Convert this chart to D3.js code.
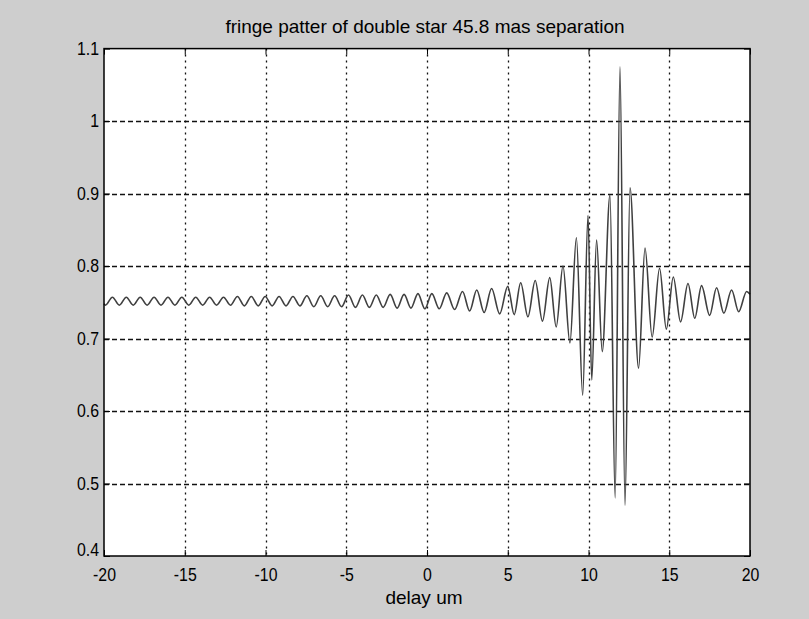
<!DOCTYPE html>
<html>
<head>
<meta charset="utf-8">
<script src="https://cdn.jsdelivr.net/npm/d3@7/dist/d3.min.js"></script>
<style>
  html, body { margin: 0; padding: 0; background: #cecece; }
  svg { display: block; }
  text { font-family: "Liberation Sans", Arial, Helvetica, sans-serif; fill: #000; }
</style>
</head>
<body>
<svg id="chart" width="809" height="619"></svg>
<script>
// Fringe extrema (delay in micrometres, normalised intensity), peak/trough alternating
const fringeDelay = [
  -20.00, -19.91, -19.48, -19.05, -18.62, -18.19, -17.76, -17.33, -16.90, -16.47,
  -16.04, -15.61, -15.18, -14.75, -14.32, -13.89, -13.46, -13.03, -12.60, -12.17,
  -11.74, -11.31, -10.88, -10.45, -10.02, -9.59, -9.16, -8.73, -8.30, -7.87,
  -7.44, -7.01, -6.58, -6.15, -5.72, -5.29, -4.86, -4.43, -4.00, -3.57,
  -3.14, -2.71, -2.28, -1.85, -1.42, -0.99, -0.56, -0.13, 0.30, 0.76,
  1.22, 1.71, 2.20, 2.64, 3.08, 3.54, 4.00, 4.50, 5.00, 5.40,
  5.80, 6.25, 6.70, 7.15, 7.60, 8.00, 8.42, 8.85, 9.25, 9.64,
  9.97, 10.20, 10.50, 10.85, 11.33, 11.65, 11.95, 12.26, 12.57, 13.10,
  13.50, 13.94, 14.40, 14.82, 15.25, 15.70, 16.16, 16.58, 17.00, 17.50,
  17.93, 18.38, 18.86, 19.30, 19.79, 20.00
];
const fringeLevel = [
  0.748, 0.746, 0.757, 0.746, 0.757, 0.746, 0.757, 0.746, 0.757, 0.746,
  0.757, 0.746, 0.757, 0.746, 0.757, 0.746, 0.757, 0.746, 0.757, 0.746,
  0.758, 0.745, 0.758, 0.745, 0.758, 0.745, 0.758, 0.745, 0.758, 0.745,
  0.759, 0.744, 0.759, 0.744, 0.759, 0.744, 0.760, 0.743, 0.760, 0.743,
  0.760, 0.743, 0.761, 0.742, 0.761, 0.742, 0.762, 0.741, 0.762, 0.741,
  0.763, 0.740, 0.765, 0.738, 0.767, 0.736, 0.769, 0.734, 0.772, 0.733,
  0.777, 0.730, 0.780, 0.724, 0.784, 0.716, 0.800, 0.694, 0.839, 0.622,
  0.870, 0.643, 0.836, 0.682, 0.898, 0.480, 1.075, 0.470, 0.908, 0.659,
  0.825, 0.702, 0.797, 0.713, 0.785, 0.723, 0.776, 0.728, 0.773, 0.732,
  0.770, 0.735, 0.767, 0.737, 0.765, 0.761
];

const xTicks = [-20, -15, -10, -5, 0, 5, 10, 15, 20];
const xTickLabels = ["-20", "-15", "-10", "-5", "0", "5", "10", "15", "20"];
const yTicks = [0.4, 0.5, 0.6, 0.7, 0.8, 0.9, 1.0, 1.1];
const yTickLabels = ["0.4", "0.5", "0.6", "0.7", "0.8", "0.9", "1", "1.1"];
const titleText = "fringe patter of double star 45.8 mas separation";
const xLabelText = "delay um";

const svg = d3.select("#chart");
const W = 809, H = 619;
const plot = { left: 104, right: 750, top: 48.6, bottom: 556 };

svg.append("rect").attr("width", W).attr("height", H).attr("fill", "#cecece");

const x = d3.scaleLinear().domain([-20, 20]).range([plot.left, plot.right]);
const y = d3.scaleLinear().domain([0.4, 1.1]).range([plot.bottom, plot.top]);

// axes background
svg.append("rect")
  .attr("x", plot.left).attr("y", plot.top)
  .attr("width", plot.right - plot.left).attr("height", plot.bottom - plot.top)
  .attr("fill", "#fff");

// dotted grid
const grid = svg.append("g").attr("stroke", "#111").attr("stroke-width", 1.3);
grid.selectAll("line.v").data(xTicks.slice(1, -1)).join("line")
  .attr("class", "v")
  .attr("x1", d => Math.round(x(d)) + 0.5).attr("x2", d => Math.round(x(d)) + 0.5)
  .attr("y1", plot.top).attr("y2", plot.bottom)
  .attr("stroke-dasharray", "2,4");
grid.selectAll("line.h").data(yTicks.slice(1, -1)).join("line")
  .attr("class", "h")
  .attr("y1", d => Math.round(y(d)) + 0.5).attr("y2", d => Math.round(y(d)) + 0.5)
  .attr("x1", plot.left).attr("x2", plot.right)
  .attr("stroke-dasharray", "5,3");

// fringe trace
const line = d3.line()
  .x((d, i) => x(fringeDelay[i]))
  .y((d, i) => y(fringeLevel[i]))
  .curve(d3.curveMonotoneX);
svg.append("path")
  .datum(fringeLevel)
  .attr("d", line)
  .attr("fill", "none")
  .attr("stroke", "#404040")
  .attr("stroke-width", 1.6)
  .attr("stroke-linejoin", "round");

// axes with inward ticks on all four sides
const tickLen = 6;
const fontSize = 18;
const gB = svg.append("g").attr("transform", `translate(0,${plot.bottom})`)
  .call(d3.axisBottom(x).tickValues(xTicks).tickSizeInner(-tickLen).tickSizeOuter(0).tickPadding(12)
    .tickFormat((d, i) => xTickLabels[i]));
const gL = svg.append("g").attr("transform", `translate(${plot.left},0)`)
  .call(d3.axisLeft(y).tickValues(yTicks).tickSizeInner(-tickLen).tickSizeOuter(0).tickPadding(5)
    .tickFormat((d, i) => yTickLabels[i]));
const gT = svg.append("g").attr("transform", `translate(0,${plot.top})`)
  .call(d3.axisTop(x).tickValues(xTicks).tickSizeInner(-tickLen).tickSizeOuter(0).tickFormat(""));
const gR = svg.append("g").attr("transform", `translate(${plot.right},0)`)
  .call(d3.axisRight(y).tickValues(yTicks).tickSizeInner(-tickLen).tickSizeOuter(0).tickFormat(""));

[gB, gL, gT, gR].forEach(g => {
  g.selectAll(".domain").remove();
  g.selectAll(".tick line").attr("stroke", "#000").attr("stroke-width", 1);
  g.selectAll("text").attr("font-size", fontSize).attr("fill", "#000")
    .attr("font-family", "'Liberation Sans', Arial, sans-serif");
});

// lowest y label sits a little above its tick, clear of the x labels
gL.selectAll(".tick text").filter(d => d === yTicks[0]).attr("dy", "-0.05em");

// frame
svg.append("rect")
  .attr("x", plot.left).attr("y", plot.top)
  .attr("width", plot.right - plot.left).attr("height", plot.bottom - plot.top)
  .attr("fill", "none").attr("stroke", "#000").attr("stroke-width", 1.5);

// narrow the tick labels a little
svg.selectAll(".tick text").each(function () {
  const w = this.getComputedTextLength();
  d3.select(this).attr("textLength", w * 0.88).attr("lengthAdjust", "spacingAndGlyphs");
});

// title and axis label
svg.append("text")
  .attr("x", 425).attr("y", 33)
  .attr("text-anchor", "middle")
  .attr("font-size", 19)
  .text(titleText);
svg.append("text")
  .attr("x", 424).attr("y", 604)
  .attr("text-anchor", "middle")
  .attr("font-size", 19)
  .text(xLabelText);
</script>
</body>
</html>
